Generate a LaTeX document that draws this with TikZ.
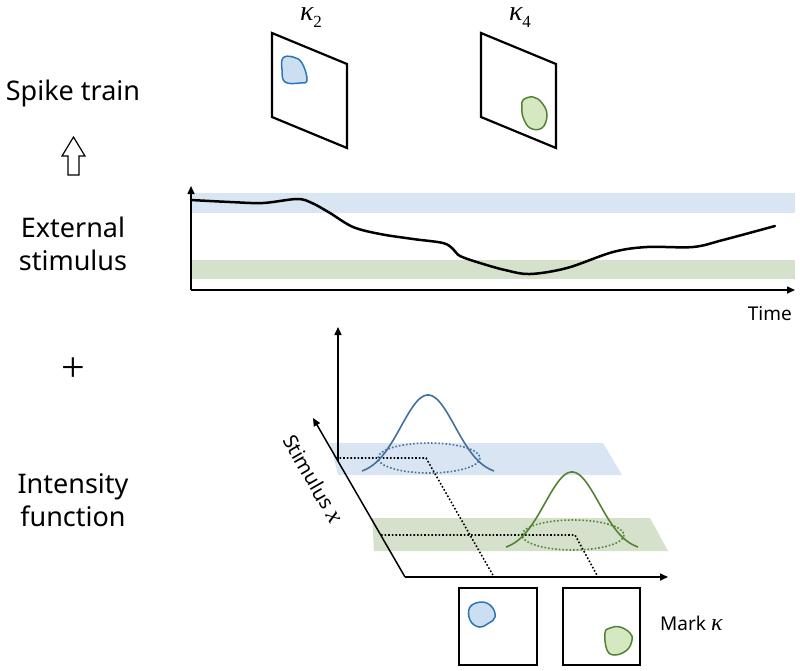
\documentclass[tikz,border=0pt]{standalone}
\usepackage{fontspec}
\setmainfont{Noto Sans}
\newfontfamily\kfont{Liberation Serif}
\usetikzlibrary{arrows.meta}
\definecolor{bandblue}{RGB}{218,229,243}
\definecolor{bandgreen}{RGB}{214,225,204}
\definecolor{lineblue}{RGB}{65,113,156}
\definecolor{linegreen}{RGB}{84,130,53}
\definecolor{blobblue}{RGB}{204,222,242}
\definecolor{blobgreen}{RGB}{214,232,194}
\definecolor{edgeblue}{RGB}{46,117,182}
\newcommand{\kapsub}[1]{{\kfont\itshape κ}\raisebox{-0.28em}{\fontsize{17}{17}\selectfont\kfont #1}}
\begin{document}
\begin{tikzpicture}[x=1pt,y=-1pt,
  lbl/.style={font=\fontsize{27}{33}\selectfont, align=center, inner sep=0pt},
  ax/.style={line width=1.5pt, -{Triangle[length=8pt,width=7pt]}},
  panel/.style={line width=2.2pt, line join=miter},
  blueblob/.style={draw=edgeblue, fill=blobblue, line width=1.5pt},
  greenblob/.style={draw=linegreen, fill=blobgreen, line width=1.5pt},
  dotline/.style={line width=1.6pt, dotted},
  gauss/.style={line width=1.6pt},
  klabel/.style={font=\fontsize{28}{28}\selectfont, inner sep=0pt, anchor=base, text height=13pt, text depth=6pt}]
\useasboundingbox (0,0) rectangle (800,670);

% ---------- left labels ----------
\node[lbl, anchor=base] (spike) at (73,100) {Spike train};
\draw[line width=1.2pt] (68,175) -- (79,175) -- (79,156) -- (85,156) -- (73.5,137) -- (62,156) -- (68,156) -- cycle;
\node[lbl] (ext) at (73,244) {External\\stimulus};
\node[font=\fontsize{42}{42}\selectfont\kfont, inner sep=0pt] (plus) at (73,370) {+};
\node[lbl] (int) at (73,500) {Intensity\\function};

% ---------- top panels ----------
\node[klabel] (k2) at (311,20) {\kapsub{2}};
\node[klabel] (k4) at (520,20) {\kapsub{4}};
\draw[panel] (272,33) -- (347,64) -- (347,148) -- (272,117) -- cycle;
\draw[panel] (481,33) -- (556,64) -- (556,148) -- (481,117) -- cycle;
\draw[blueblob, shift={(295,69)}] plot[smooth cycle, tension=0.7] coordinates
  {(-12,-11) (-2,-12) (7,-6) (12,11) (5,14) (-10,13) (-13,1)};
\draw[greenblob, shift={(534,112)}] plot[smooth cycle, tension=0.7] coordinates
  {(-11,-12) (-1,-15) (8,-9) (13,3) (8,16) (-4,16) (-11,5) (-12,-5)};

% ---------- stimulus time course ----------
\fill[bandblue] (191,193) rectangle (795,213);
\fill[bandgreen] (191,260) rectangle (795,279);
\coordinate (to) at (191,290);
\coordinate (ttop) at (191,186);
\coordinate (tend) at (795,290);
\draw[ax] (to) -- (ttop);
\draw[ax] (to) -- (tend);
\draw[line width=2.5pt, line cap=round] plot[smooth, tension=0.55] coordinates
  {(191,200) (230,202) (263,203) (297,199) (312,203) (330,213) (353,227) (380,234)
   (413,239) (443,243) (453,249) (460,256) (480,263) (505,270) (530,274) (567,268)
   (613,252) (647,247) (693,247) (723,240) (775,226)};
\node[font=\fontsize{19}{19}\selectfont, anchor=base east, inner sep=0pt] (time) at (792,320) {Time};

% ---------- intensity function ----------
\fill[bandblue] (330,443) -- (603,443) -- (622,475) -- (338,475) -- cycle;
\fill[bandgreen] (372,518) -- (650,518) -- (668,551) -- (374,551) -- cycle;
\draw[lineblue, dotline] (429,458) ellipse [x radius=51, y radius=15];
\draw[linegreen, dotline] (573,535) ellipse [x radius=51, y radius=15];
\coordinate (O) at (405,577);
\coordinate (Sx) at (313,418);
\coordinate (Mk) at (668,577);
\coordinate (Vb) at (338,461);
\coordinate (Vt) at (338,327);
\coordinate (b1) at (336,458);
\coordinate (b2) at (426,458);
\coordinate (b3) at (494,577);
\coordinate (g1) at (381,535);
\coordinate (g2) at (575,535);
\coordinate (g3) at (598,577);
\draw[dotline] (b1) -- (b2) -- (b3);
\draw[dotline] (g1) -- (g2) -- (g3);
\draw[lineblue, gauss] plot[domain=-66:66, samples=80] ({428+\x},{475-80*exp(-(\x/27)*(\x/27)/2)});
\draw[linegreen, gauss] plot[domain=-66:66, samples=80] ({572+\x},{551-79*exp(-(\x/27)*(\x/27)/2)});
\draw[ax] (Vb) -- (Vt);
\draw[ax] (O) -- (Sx);
\draw[ax] (O) -- (Mk);
\node[font=\fontsize{20}{20}\selectfont, rotate=-60, inner sep=0pt] (stim) at (313,479) {Stimulus {\kfont\itshape\fontsize{25}{25}\selectfont x}};

% ---------- bottom mark panels ----------
\draw[panel] (459,588) rectangle (537,665);
\draw[panel] (563,588) rectangle (640,665);
\draw[blueblob, shift={(483,615)}] plot[smooth cycle, tension=0.7] coordinates
  {(-13,-8) (-1,-13) (9,-8) (12,2) (6,8) (-4,12) (-13,5)};
\draw[greenblob, shift={(618,641)}] plot[smooth cycle, tension=0.7] coordinates
  {(-13,-8) (-8,-13) (2,-14) (12,-8) (14,-1) (9,9) (-3,14) (-11,9)};
\node[font=\fontsize{19}{19}\selectfont, anchor=base west, inner sep=0pt] (mark) at (660,630) {Mark {\kfont\itshape\fontsize{24}{24}\selectfont κ}};
\end{tikzpicture}
\end{document}
